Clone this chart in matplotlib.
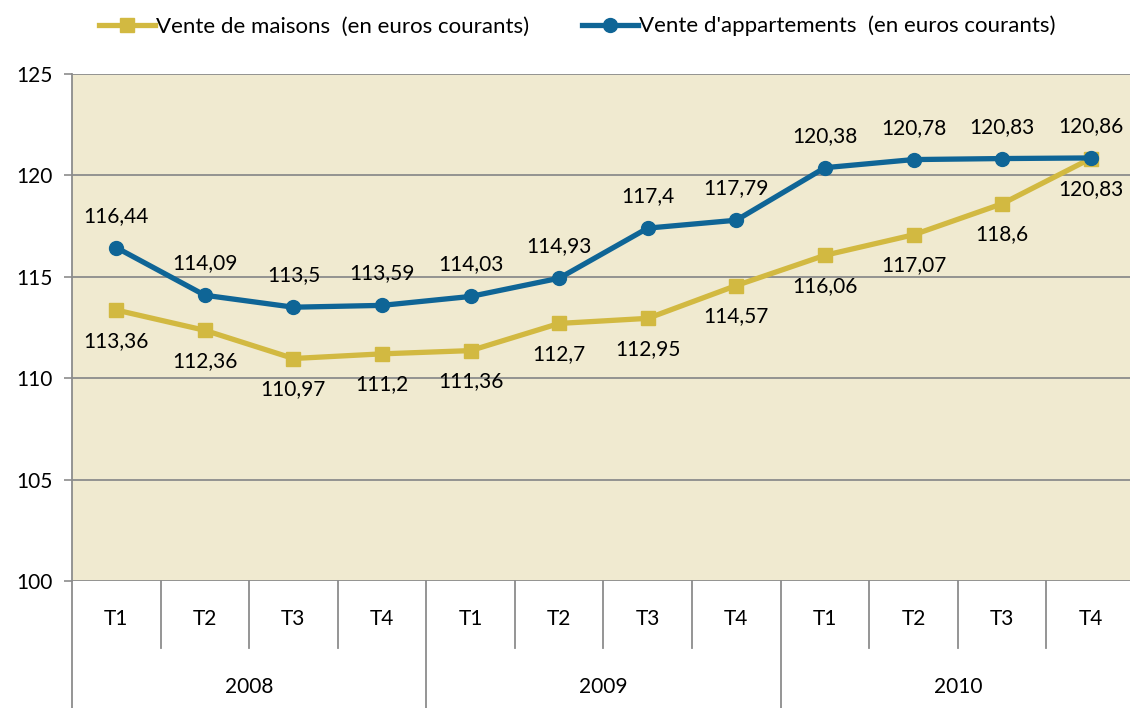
import matplotlib.pyplot as plt
from matplotlib.lines import Line2D

plt.rcParams['font.family'] = ['Lato', 'DejaVu Sans']

# Data
quarters = ["T1", "T2", "T3", "T4"] * 3
years = ["2008", "2009", "2010"]
maisons = [113.36, 112.36, 110.97, 111.2, 111.36, 112.7, 112.95, 114.57, 116.06, 117.07, 118.6, 120.83]
apparts = [116.44, 114.09, 113.5, 113.59, 114.03, 114.93, 117.4, 117.79, 120.38, 120.78, 120.83, 120.86]
yticks = [100, 105, 110, 115, 120, 125]

gold = "#D2B941"
blue = "#0F6596"
bg = "#F0EAD0"
grid = "#8C8C8C"

fig = plt.figure(figsize=(11.3, 7.08), dpi=100)
ax = fig.add_axes([0.0637, 0.1794, 0.9407, 0.7161])
ax.set_facecolor(bg)

x = list(range(len(quarters)))
ax.plot(x, maisons, color=gold, lw=3.8, marker="s", ms=10, zorder=3)
ax.plot(x, apparts, color=blue, lw=3.8, marker="o", ms=10, zorder=4)

def fmt(v):
    return ("%g" % v).replace(".", ",")

for i, v in enumerate(apparts):
    ax.annotate(fmt(v), (i, v), xytext=(0, 23), textcoords="offset points",
                ha="center", va="center", fontsize=15, color="black", zorder=5)
for i, v in enumerate(maisons):
    ax.annotate(fmt(v), (i, v), xytext=(0, -22), textcoords="offset points",
                ha="center", va="center", fontsize=15, color="black", zorder=5)

ax.set_xlim(-0.5, len(x) - 0.5)
ax.set_ylim(100, 125)
ax.set_yticks(yticks)
ax.set_yticklabels([str(t) for t in yticks], fontsize=15)
ax.tick_params(axis="y", length=6, width=1.2, color=grid, pad=8)
ax.set_xticks([])
for t in yticks:
    ax.axhline(t, color=grid, lw=1.3, zorder=1)
for s in ["top", "right", "bottom"]:
    ax.spines[s].set_visible(False)
ax.spines["left"].set_color(grid)
ax.spines["left"].set_linewidth(1.3)

# category axis below the plot
tr = ax.get_xaxis_transform()
short_bottom = -0.132
long_bottom = -0.25
ax.plot([-0.5, -0.5], [0, long_bottom], transform=tr, color=grid, lw=1.3, clip_on=False)
for i in range(1, len(x) + 1):
    b = long_bottom if i % 4 == 0 else short_bottom
    ax.plot([i - 0.5, i - 0.5], [0, b], transform=tr, color=grid, lw=1.3, clip_on=False)
for i, q in enumerate(quarters):
    ax.text(i, -0.075, q, transform=tr, ha="center", va="center", fontsize=15)
for j, yr in enumerate(years):
    ax.text(j * 4 + 1.5, -0.21, yr, transform=tr, ha="center", va="center", fontsize=15)

handles = [
    Line2D([], [], color=gold, lw=3.8, marker="s", ms=10),
    Line2D([], [], color=blue, lw=3.8, marker="o", ms=10),
]
fig.legend(handles, ["Vente de maisons  (en euros courants)", "Vente d'appartements  (en euros courants)"],
           loc="center", bbox_to_anchor=(0.511, 0.963), ncol=2, frameon=False,
           fontsize=16, handlelength=2.5, handletextpad=0.05, columnspacing=2.4)

fig.savefig("out.png", dpi=100)
